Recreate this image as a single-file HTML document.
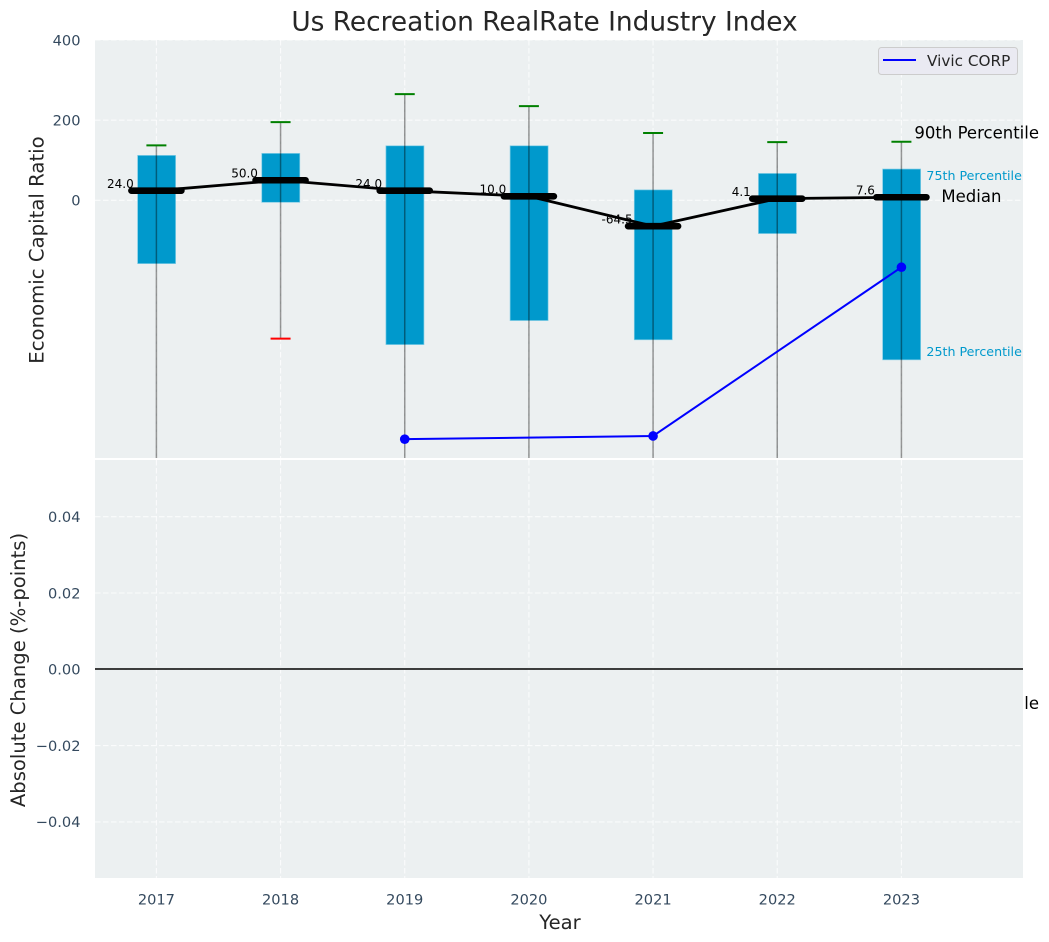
<!DOCTYPE html>
<html lang="en">
<head>
<meta charset="utf-8">
<title>Us Recreation RealRate Industry Index</title>
<style>
html,body{margin:0;padding:0;background:#fff;}
svg{display:block;font-family:"DejaVu Sans","Liberation Sans",sans-serif;}
</style>
</head>
<body>
<svg id="chart" width="1049" height="942" viewBox="0 0 1049 942" xmlns="http://www.w3.org/2000/svg">
  <defs>
    <clipPath id="top-clip"><rect x="95" y="40" width="928" height="418"></rect></clipPath>
  </defs>
  <rect x="0" y="0" width="1049" height="942" fill="#ffffff"></rect>
  <text x="544.5" y="30.5" text-anchor="middle" font-size="26.4" fill="#262626">Us Recreation RealRate Industry Index</text>
  <rect x="95" y="40" width="928" height="418" fill="#ecf0f1"></rect>
  <g id="top-grid"></g>
  <g id="top-marks"></g>
  <g id="notes"></g>
  <rect x="95" y="460" width="928" height="418" fill="#ecf0f1"></rect>
  <g id="bottom-grid"></g>
  <line x1="95" x2="1023" y1="669" y2="669" stroke="#000000" stroke-width="1.6"></line>
  <g id="ticks"></g>
  <text transform="translate(43.5,250) rotate(-90)" text-anchor="middle" font-size="19.7" fill="#262626">Economic Capital Ratio</text>
  <text transform="translate(25,670) rotate(-90)" text-anchor="middle" font-size="19.6" fill="#262626">Absolute Change (%-points)</text>
  <text x="560" y="929" text-anchor="middle" font-size="19.6" fill="#262626">Year</text>
  <g>
    <rect x="878.5" y="47.5" width="139" height="27" rx="3" fill="#eaeaf2" stroke="#cccccc" stroke-width="1"></rect>
    <line x1="883" x2="916" y1="60" y2="60" stroke="#0000ff" stroke-width="2"></line>
    <text x="927" y="66" font-size="15.25" fill="#262626">Vivic CORP</text>
  </g>
</svg>
<script>
const years = [2017, 2018, 2019, 2020, 2021, 2022, 2023];
const p90 = [137, 195, 265, 235, 168, 145, 146];
const p75 = [112, 117, 136, 136, 26, 67, 78];
const medians = [24.0, 50.0, 24.0, 10.0, -64.5, 4.1, 7.6];
const medianLabels = ["24.0", "50.0", "24.0", "10.0", "-64.5", "4.1", "7.6"];
const p25 = [-158, -5, -360, -300, -348, -83, -398];
const p10 = [-760, -345, -720, -700, -690, -680, -710];
const vivicYears = [2019, 2021, 2023];
const vivicValues = [-596, -588, -167];
const topTicks = [0, 200, 400];
const topTickLabels = ["0", "200", "400"];
const bottomTicks = [-0.04, -0.02, 0, 0.02, 0.04];
const bottomTickLabels = ["\u22120.04", "\u22120.02", "0.00", "0.02", "0.04"];

const NS = "http://www.w3.org/2000/svg";
function xScale(year) { return 156.4 + (year - 2017) * 124.17; }
function yTop(value) { return 200.3 - value * 0.4008; }
function yBottom(value) { return 669.3 - value * 3815; }
function make(parent, tag, attrs, text) {
  const el = document.createElementNS(NS, tag);
  for (const k in attrs) el.setAttribute(k, attrs[k]);
  if (text !== undefined) el.textContent = text;
  parent.appendChild(el);
  return el;
}

const gridStyle = { stroke: "#ffffff", "stroke-width": 1.1, "stroke-dasharray": "5.5 2.5", "stroke-opacity": 0.75 };
const topGrid = document.getElementById("top-grid");
const bottomGrid = document.getElementById("bottom-grid");
const marks = document.getElementById("top-marks");
const notes = document.getElementById("notes");
const ticks = document.getElementById("ticks");

years.forEach(function (yr) {
  const a = make(topGrid, "line", Object.assign({ x1: xScale(yr), x2: xScale(yr), y1: 40, y2: 458 }, gridStyle));
  
  
  const b = make(bottomGrid, "line", Object.assign({ x1: xScale(yr), x2: xScale(yr), y1: 460, y2: 878 }, gridStyle));
  
  
  const t = make(ticks, "text", { x: xScale(yr), y: 904.5, "text-anchor": "middle", "font-size": 14.6, fill: "#34495e" }, String(yr));
  
  
});
topTicks.forEach(function (v, i) {
  const y = yTop(v);
  const g = make(topGrid, "line", Object.assign({ x1: 95, x2: 1023, y1: y, y2: y }, gridStyle));
  
  
  const t = make(ticks, "text", { x: 80.5, y: y + 5.3, "text-anchor": "end", "font-size": 14.6, fill: "#34495e" }, topTickLabels[i]);
  
  
});
bottomTicks.forEach(function (v, i) {
  const y = yBottom(v);
  const g = make(bottomGrid, "line", Object.assign({ x1: 95, x2: 1023, y1: y, y2: y }, gridStyle));
  
  
  const t = make(ticks, "text", { x: 80.5, y: y + 5.3, "text-anchor": "end", "font-size": 14.6, fill: "#34495e" }, bottomTickLabels[i]);
  
  
});

const clipped = make(marks, "g", { "clip-path": "url(#top-clip)" });



years.forEach(function (yr, i) {
  const x = xScale(yr);
  const box = make(clipped, "rect", {
    x: x - 18.8, width: 38, y: yTop(p75[i]), height: yTop(p25[i]) - yTop(p75[i]),
    fill: "#0099cc", stroke: "#7fcce5", "stroke-width": 0.7
  });
  
  
});

const medianLine = make(clipped, "polyline", {
  points: years.map(function (yr, i) { return xScale(yr) + "," + yTop(medians[i]); }).join(" "),
  fill: "none", stroke: "#000000", "stroke-width": 2.8, "stroke-linejoin": "round"
});



years.forEach(function (yr, i) {
  const x = xScale(yr);
  const w = make(clipped, "line", {
    x1: x, x2: x, y1: yTop(p90[i]), y2: yTop(p10[i]),
    stroke: "#000000", "stroke-opacity": 0.4, "stroke-width": 1.5
  });
  
  
  const cap = make(clipped, "line", {
    x1: x - 10, x2: x + 10, y1: yTop(p90[i]), y2: yTop(p90[i]),
    stroke: "#008000", "stroke-width": 2
  });
  
  
  const low = make(clipped, "line", {
    x1: x - 10, x2: x + 10, y1: yTop(p10[i]), y2: yTop(p10[i]),
    stroke: "#ff0000", "stroke-width": 2
  });
  
  
  const m = make(clipped, "line", {
    x1: x - 25, x2: x + 25, y1: yTop(medians[i]), y2: yTop(medians[i]),
    stroke: "#000000", "stroke-width": 6.6, "stroke-linecap": "round"
  });
  
  
  const lab = make(marks, "text", {
    x: x - 36, y: yTop(medians[i]) - 2.8, "text-anchor": "middle", "font-size": 12, fill: "#000000"
  }, medianLabels[i]);
  
  
});

const vivicLine = make(clipped, "polyline", {
  points: vivicYears.map(function (yr, i) { return xScale(yr) + "," + yTop(vivicValues[i]); }).join(" "),
  fill: "none", stroke: "#0000ff", "stroke-width": 2
});


vivicYears.forEach(function (yr, i) {
  const p = make(clipped, "circle", { cx: xScale(yr), cy: yTop(vivicValues[i]), r: 4.8, fill: "#0000ff" });
  
  
});

const lastX = xScale(years[years.length - 1]);
const n90 = make(notes, "text", { x: lastX + 13, y: 138.5, "font-size": 16.5, fill: "#000000" }, "90th Percentile");


const n75 = make(notes, "text", { x: lastX + 25, y: 180, "font-size": 12.65, fill: "#0099cc" }, "75th Percentile");


const nMed = make(notes, "text", { x: lastX + 40, y: 202, "font-size": 16.5, fill: "#000000" }, "Median");


const n25 = make(notes, "text", { x: lastX + 25, y: 356, "font-size": 12.65, fill: "#0099cc" }, "25th Percentile");


const n10 = make(notes, "text", { x: lastX + 13, y: 709, "font-size": 16.5, fill: "#000000" }, "10th Percentile");


</script>
</body>
</html>
